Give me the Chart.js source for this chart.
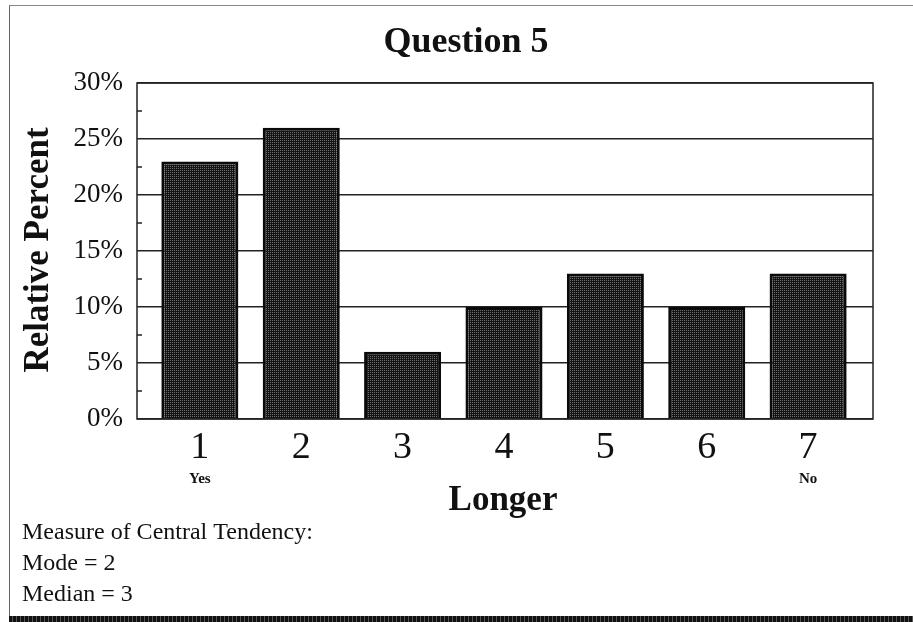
<!DOCTYPE html>
<html>
<head>
<meta charset="utf-8">
<script src="https://cdn.jsdelivr.net/npm/chart.js@4/dist/chart.umd.min.js"></script>
<style>
  html, body { margin: 0; padding: 0; background: #fff; }
  #wrap { position: relative; width: 913px; height: 622px; overflow: hidden; }
  #frame { position: absolute; left: 9px; top: 5px; width: 910px; height: 610px;
           border-left: 1.5px solid #666; border-top: 1.5px solid #888; }
  #band { position: absolute; left: 9px; top: 616px; width: 904px; height: 6px;
          background: repeating-linear-gradient(90deg, #111 0 3px, #555 3px 4px); }
  canvas { position: absolute; left: 0; top: 0; }
</style>
</head>
<body>
<div id="wrap">
  <div id="frame"></div>
  <div id="band"></div>
  <canvas id="chart" width="913" height="622"></canvas>
</div>
<script>
// Response scale 1..7 and the share of answers for each point
const categories = [1, 2, 3, 4, 5, 6, 7];
const tickLabels = ['1', '2', '3', '4', '5', '6', '7'];
const endLabels = ['Yes', '', '', '', '', '', 'No'];
const percents = [23, 26, 6, 10, 13, 10, 13];
const yTickValues = [0, 5, 10, 15, 20, 25, 30];
const minorTickValues = [2.5, 7.5, 12.5, 17.5, 22.5, 27.5];
const chartTitle = 'Question 5';
const xTitle = 'Longer';
const yTitle = 'Relative Percent';
const notes = ['Measure of Central Tendency:', 'Mode = 2', 'Median = 3'];

const SERIF = "'Liberation Serif', 'Times New Roman', serif";
const INK = '#111';

// Halftone fill for the bars: dark ground with a fine grid of light dots
function halftone() {
  const c = document.createElement('canvas');
  c.width = 4; c.height = 4;
  const g = c.getContext('2d');
  g.fillStyle = '#141414';
  g.fillRect(0, 0, 4, 4);
  g.fillStyle = '#6e6e6e';
  [[0, 0], [2, 2], [2, 0], [0, 2]].forEach(([x, y]) => g.fillRect(x, y, 1, 1));
  return g.createPattern(c, 'repeat');
}

const ctx = document.getElementById('chart').getContext('2d');

const decorations = {
  id: 'decorations',
  beforeDatasetsDraw(chart) {
    const { ctx, chartArea: a, scales: { y } } = chart;
    ctx.save();
    ctx.strokeStyle = '#222';
    ctx.lineWidth = 1.5;
    // minor tick marks along the inside of the value axis
    minorTickValues.forEach(v => {
      const py = y.getPixelForValue(v);
      ctx.beginPath();
      ctx.moveTo(a.left, py);
      ctx.lineTo(a.left + 5, py);
      ctx.stroke();
    });
    ctx.restore();
  },
  afterDatasetsDraw(chart) {
    const { ctx, chartArea: a } = chart;
    ctx.save();
    ctx.strokeStyle = '#222';
    ctx.lineWidth = 1.5;
    ctx.strokeRect(a.left, a.top, a.right - a.left, a.bottom - a.top);
    ctx.restore();
  },
  afterDraw(chart) {
    const { ctx, chartArea: a, scales: { x } } = chart;
    ctx.save();
    ctx.fillStyle = INK;
    ctx.textAlign = 'center';
    ctx.textBaseline = 'alphabetic';

    ctx.font = 'bold 36px ' + SERIF;
    ctx.fillText(chartTitle, 466, 52);

    ctx.font = 'bold 35px ' + SERIF;
    ctx.fillText(xTitle, 503, 510);

    ctx.save();
    ctx.translate(48, (a.top + a.bottom) / 2 - 1);
    ctx.rotate(-Math.PI / 2);
    ctx.font = 'bold 35px ' + SERIF;
    ctx.fillText(yTitle, 0, 0);
    ctx.restore();

    ctx.font = 'bold 15px ' + SERIF;
    endLabels.forEach((t, i) => {
      if (t) ctx.fillText(t, x.getPixelForValue(categories[i]), 483);
    });

    ctx.textAlign = 'left';
    ctx.font = '24px ' + SERIF;
    const baselines = [539, 570, 601];
    notes.forEach((t, i) => ctx.fillText(t, 22, baselines[i]));
    ctx.restore();
  }
};

new Chart(ctx, {
  type: 'bar',
  data: {
    datasets: [{
      data: categories.map((c, i) => ({ x: c, y: percents[i] })),
      backgroundColor: halftone(),
      borderColor: '#0a0a0a',
      borderWidth: 3,
      barPercentage: 0.76,
      categoryPercentage: 1
    }]
  },
  options: {
    responsive: false,
    animation: false,
    devicePixelRatio: 1,
    layout: { padding: { top: 83, right: 40, bottom: 0, left: 0 } },
    plugins: { legend: { display: false }, tooltip: { enabled: false }, title: { display: false } },
    scales: {
      x: {
        type: 'linear',
        offset: false,
        min: 0.38,
        max: 7.64,
        afterBuildTicks(scale) { scale.ticks = categories.map(v => ({ value: v })); },
        afterFit(scale) { scale.height = 203; },
        grid: { display: false, drawTicks: false, offset: false },
        border: { display: false },
        ticks: {
          autoSkip: false,
          maxRotation: 0,
          padding: 6,
          color: INK,
          font: { family: SERIF, size: 38 },
          callback: (v) => tickLabels[categories.indexOf(v)] ?? ''
        }
      },
      y: {
        min: 0,
        max: 30,
        afterBuildTicks(scale) { scale.ticks = yTickValues.map(v => ({ value: v })); },
        afterFit(scale) { scale.width = 137; },
        grid: { color: '#222', lineWidth: 1.5, drawTicks: false },
        border: { display: false },
        ticks: {
          padding: 14,
          color: INK,
          font: { family: SERIF, size: 27 },
          callback: (v) => v + '%'
        }
      }
    }
  },
  plugins: [decorations]
});
</script>
</body>
</html>
